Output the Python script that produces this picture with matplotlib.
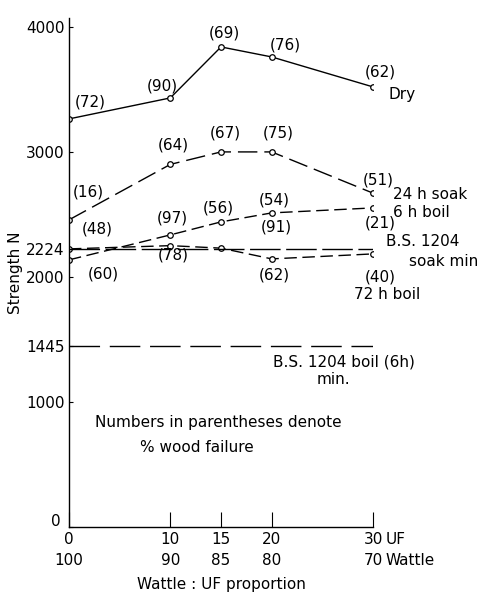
import numpy as np
import matplotlib.pyplot as plt
import matplotlib.transforms as mtransforms

# UF proportion (x) and strength values
uf = [0, 10, 15, 20, 30]
dry = [3264, 3432, 3840, 3760, 3520]
soak24 = [2456, 2900, 3000, 3000, 2670]
boil6 = [2136, 2336, 2440, 2512, 2552]
boil72 = [2224, 2250, 2230, 2144, 2184]

bs_soak_min = 2224
bs_boil_min = 1445

yticks = [0, 1000, 1445, 2000, 2224, 3000, 4000]
xticks = [0, 10, 15, 20, 30]
xtick_labels = ["0\n100", "10\n90", "15\n85", "20\n80", "30\n70"]

# % wood failure labels (text, x, y)
dry_pct = [("(72)", 2.1, 3400), ("(90)", 9.2, 3528), ("(69)", 15.3, 3952),
           ("(76)", 21.3, 3856), ("(62)", 30.7, 3640)]
soak_pct = [("(16)", 1.9, 2680), ("(64)", 10.3, 3056), ("(67)", 15.4, 3152),
            ("(75)", 20.6, 3152), ("(51)", 30.5, 2776)]
boil6_pct = [("(60)", 3.4, 2024), ("(97)", 10.2, 2472), ("(56)", 14.7, 2552),
             ("(54)", 20.3, 2616), ("(21)", 30.7, 2432)]
boil72_pct = [("(48)", 2.8, 2384), ("(78)", 10.3, 2176), ("(91)", 20.5, 2400),
              ("(62)", 20.3, 2016), ("(40)", 30.7, 2000)]

plt.rcParams['font.family'] = 'DejaVu Sans'
fs = 11

fig = plt.figure(figsize=(4.82, 5.98), dpi=100)
ax = fig.add_axes([0.143, 0.119, 0.631, 0.851])

mk = dict(marker='o', markersize=4, mfc='white', mec='black', mew=0.9, color='black', lw=1.0)
ax.plot(uf, dry, '-', **mk)
ax.plot(uf, soak24, dashes=(14, 5), **mk)
ax.plot(uf, boil6, dashes=(9, 4), **mk)
ax.plot(uf, boil72, dashes=(9, 4), **mk)

# B.S. 1204 minimum lines
ax.plot([0, 30.7], [bs_soak_min, bs_soak_min], color='black', lw=1.0, dashes=(22, 4))
ax.plot([0, 30], [bs_boil_min, bs_boil_min], color='black', lw=1.0, dashes=(22, 7))

for lst in (dry_pct, soak_pct, boil6_pct, boil72_pct):
    for t, x, y in lst:
        ax.text(x, y, t, fontsize=fs, ha='center', va='center', clip_on=False)

ax.text(31.5, 3456, "Dry", fontsize=fs, ha='left', va='center')
ax.text(32.0, 2656, "24 h soak", fontsize=fs, ha='left', va='center')
ax.text(32.0, 2512, "6 h boil", fontsize=fs, ha='left', va='center')
ax.text(31.3, 2280, "B.S. 1204", fontsize=fs, ha='left', va='center')
ax.text(33.5, 2120, "soak min", fontsize=fs, ha='left', va='center')
ax.text(31.4, 1856, "72 h boil", fontsize=fs, ha='center', va='center')
ax.text(27.1, 1320, "B.S. 1204 boil (6h)", fontsize=fs, ha='center', va='center')
ax.text(26.1, 1176, "min.", fontsize=fs, ha='center', va='center')
ax.text(14.7, 832, "Numbers in parentheses denote", fontsize=fs, ha='center', va='center')
ax.text(12.6, 632, "% wood failure", fontsize=fs, ha='center', va='center')

ax.set_xlim(0, 30)
ax.set_ylim(0, 4072)
ax.set_yticks(yticks)
ax.set_yticklabels([str(v) for v in yticks], fontsize=fs)
ax.set_xticks(xticks)
ax.set_xticklabels(xtick_labels, fontsize=fs, linespacing=1.5)
ax.annotate("UF", xy=(30, 0), xytext=(9, -4), textcoords='offset points',
            fontsize=fs, ha='left', va='top', annotation_clip=False)
ax.annotate("Wattle", xy=(30, 0), xytext=(9, -19), textcoords='offset points',
            fontsize=fs, ha='left', va='top', annotation_clip=False)

ax.tick_params(axis='x', direction='in', length=11, width=0.8, pad=4)
ax.tick_params(axis='y', direction='in', length=3, width=0.8, pad=3)

# nudge the y "0" label up so it clears the x "0" label
lab0 = ax.get_yticklabels()[0]
lab0.set_transform(lab0.get_transform() + mtransforms.ScaledTranslation(-3 / 72, 5 / 72, fig.dpi_scale_trans))

ax.spines['top'].set_visible(False)
ax.spines['right'].set_visible(False)
ax.spines['left'].set_linewidth(1.0)
ax.spines['bottom'].set_linewidth(1.0)

ax.set_ylabel("Strength N", fontsize=fs, labelpad=2)
ax.set_xlabel("Wattle : UF proportion", fontsize=fs, labelpad=6)

fig.savefig("out.png", dpi=100)
